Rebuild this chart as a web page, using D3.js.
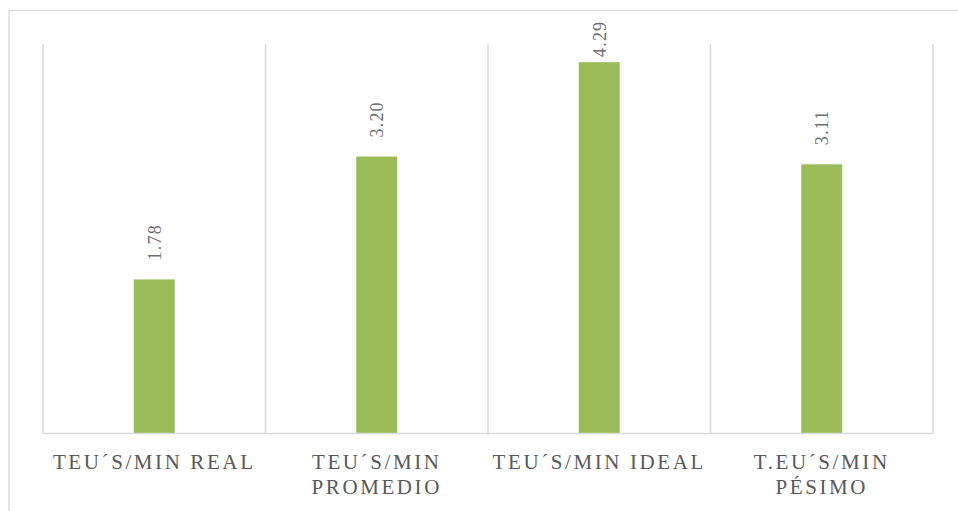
<!DOCTYPE html>
<html>
<head>
<meta charset="utf-8">
<script src="https://cdn.jsdelivr.net/npm/d3@7/dist/d3.min.js"></script>
<style>
  html, body { margin: 0; padding: 0; background: #fff; }
  svg { display: block; }
</style>
</head>
<body>
<svg id="chart" width="958" height="511"></svg>
<script>
// Throughput per scenario (TEU's per minute)
const categories = [
  ["TEU´S/MIN REAL"],
  ["TEU´S/MIN", "PROMEDIO"],
  ["TEU´S/MIN IDEAL"],
  ["T.EU´S/MIN", "PÉSIMO"]
];
const values = [1.78, 3.20, 4.29, 3.11];
const yMax = 4.5;

const svg = d3.select("#chart");
const W = 958, H = 511;
const plot = { left: 43, right: 933, top: 44, bottom: 433.5 };
const grid = "#d9d9d9";
const textColor = "#595959";
const fontFamily = "'Liberation Serif', 'DejaVu Serif', serif";

// chart frame
svg.append("rect")
  .attr("x", 9).attr("y", 10.5)
  .attr("width", W + 10).attr("height", H + 10)
  .attr("fill", "none").attr("stroke", grid).attr("stroke-width", 1.3);

const x = d3.scaleBand()
  .domain(d3.range(categories.length))
  .range([plot.left, plot.right])
  .paddingInner(0).paddingOuter(0);

const y = d3.scaleLinear().domain([0, yMax]).range([plot.bottom, plot.top]);

// vertical separators between categories
const edges = d3.range(categories.length + 1).map(i =>
  i < categories.length ? x(i) : x(i - 1) + x.bandwidth());
svg.append("g").selectAll("line").data(edges).join("line")
  .attr("x1", d => d).attr("x2", d => d)
  .attr("y1", plot.top).attr("y2", plot.bottom)
  .attr("stroke", grid).attr("stroke-width", 1.6);

// bars
const barW = 41;
svg.append("g").selectAll("rect").data(values).join("rect")
  .attr("x", (d, i) => x(i) + x.bandwidth() / 2 - barW / 2)
  .attr("y", d => y(d))
  .attr("width", barW)
  .attr("height", d => plot.bottom - y(d))
  .attr("fill", "#9bbb59");

// baseline
svg.append("line")
  .attr("x1", plot.left).attr("x2", plot.right)
  .attr("y1", plot.bottom).attr("y2", plot.bottom)
  .attr("stroke", grid).attr("stroke-width", 1.6);

// value labels, rotated, above the bars
const labelLen = 39;
svg.append("g").selectAll("text").data(values).join("text")
  .attr("transform", (d, i) => {
    const cx = x(i) + x.bandwidth() / 2 + 6.5;
    const end = Math.max(18 + labelLen, y(d) - 19);
    return `translate(${cx},${end}) rotate(-90)`;
  })
  .attr("text-anchor", "start")
  .attr("font-family", fontFamily)
  .attr("font-size", 18)
  .attr("letter-spacing", "1.2px")
  .attr("fill", "#6e6e6e")
  .text(d => d.toFixed(2));

// category labels
const cat = svg.append("g").selectAll("text").data(categories).join("text")
  .attr("x", (d, i) => x(i) + x.bandwidth() / 2)
  .attr("y", 469)
  .attr("text-anchor", "middle")
  .attr("font-family", fontFamily)
  .attr("font-size", 21)
  .attr("letter-spacing", "2.6px")
  .attr("fill", textColor);
cat.selectAll("tspan").data((d, i) => d.map(t => ({ t, i }))).join("tspan")
  .attr("x", d => x(d.i) + x.bandwidth() / 2)
  .attr("dy", (d, j) => j === 0 ? 0 : 25)
  .text(d => d.t);
</script>
</body>
</html>
